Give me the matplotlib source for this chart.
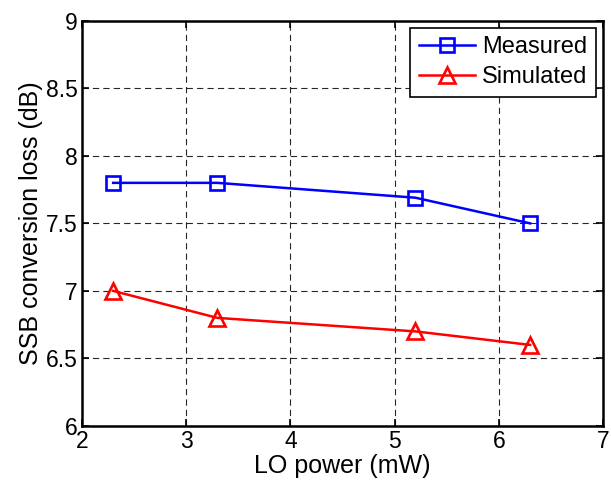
#!/usr/bin/env python3
"""SSB conversion loss vs LO power, MATLAB-style line plot."""

import matplotlib
matplotlib.use("Agg")
import matplotlib.pyplot as plt

# data
lo_power = [2.3, 3.3, 5.2, 6.3]
measured = [7.8, 7.8, 7.69, 7.5]
simulated = [7.0, 6.8, 6.7, 6.6]
x_ticks = [2, 3, 4, 5, 6, 7]
y_ticks = [6, 6.5, 7, 7.5, 8, 8.5, 9]
y_tick_labels = ["6", "6.5", "7", "7.5", "8", "8.5", "9"]

plt.rcParams.update(
    {
        "font.family": ["Liberation Sans", "DejaVu Sans"],
        "font.size": 16.5,
        "lines.scale_dashes": False,
        "axes.linewidth": 1.8,
    }
)

fig = plt.figure(figsize=(6.11, 4.84), dpi=100)
fig.patch.set_facecolor("white")
ax = fig.add_axes([0.134, 0.120, 0.853, 0.837])

ax.plot(lo_power, measured, color="#0000FF", linewidth=1.8, marker="s", markersize=10,
        markerfacecolor="none", markeredgewidth=1.9, label="Measured", zorder=4)
ax.plot(lo_power, simulated, color="#FF0000", linewidth=1.8, marker="^", markersize=12,
        markerfacecolor="none", markeredgewidth=1.9, label="Simulated", zorder=4)

ax.set_xlim(2, 7)
ax.set_ylim(6, 9)
ax.set_xticks(x_ticks)
ax.set_xticklabels([str(t) for t in x_ticks])
ax.set_yticks(y_ticks)
ax.set_yticklabels(y_tick_labels)
ax.tick_params(direction="in", length=5, width=1.2, top=True, right=True, pad=3)

ax.grid(True, color="black", linewidth=0.8, linestyle=(0, (4.5, 3.0)), alpha=0.85)
ax.set_axisbelow(True)

ax.set_xlabel("LO power (mW)", labelpad=1, fontsize=18)
ax.set_ylabel("SSB conversion loss (dB)", labelpad=2, fontsize=18)

leg = ax.legend(loc="upper right", fancybox=False, framealpha=1, edgecolor="black",
                borderaxespad=0.3, handlelength=2.4, handletextpad=0.3,
                borderpad=0.35, labelspacing=0.35, fontsize=17)
leg.get_frame().set_linewidth(1.2)

fig.savefig("out.png", dpi=100, facecolor="white")
